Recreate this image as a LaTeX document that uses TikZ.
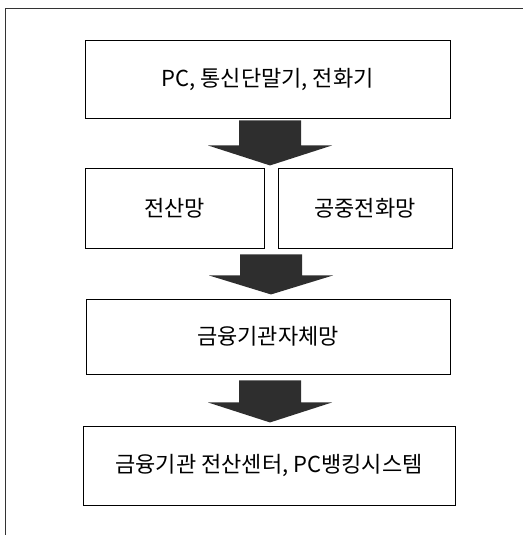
\documentclass[tikz,border=0pt]{standalone}
\usepackage{fontspec}
\newfontfamily\kr{Noto Sans CJK KR}
\usetikzlibrary{calc}
\definecolor{arrowgray}{HTML}{2E2E2E}
\tikzset{
  boxnode/.style={draw=black, line width=0.9pt, fill=white, inner sep=0pt,
    font=\kr\fontsize{22}{26}\selectfont},
  arrowfill/.style={fill=arrowgray},
}
% \flowarrow{top coordinate}{shaft length}{total length}
\newcommand\flowarrow[3]{%
  \fill[arrowfill] ($(#1)+(-31,0)$) -- ($(#1)+(31,0)$) -- ($(#1)+(31,#2)$) -- ($(#1)+(62,#2)$)
    -- ($(#1)+(0,#3)$) -- ($(#1)+(-62,#2)$) -- ($(#1)+(-31,#2)$) -- cycle;}
\begin{document}
\begin{tikzpicture}[x=1pt,y=-1pt]
\useasboundingbox (0,0) rectangle (523,535);
\draw[line width=0.8pt, black!80] (5,535) -- (5,8) -- (523,8);

\node[boxnode, minimum width=365pt, minimum height=78pt] (b1) at (267.5,79) {\raisebox{-7pt}{PC, 통신단말기, 전화기}};
\node[boxnode, minimum width=179pt, minimum height=80pt] (b2l) at (174.5,208) {전산망};
\node[boxnode, minimum width=174pt, minimum height=80pt] (b2r) at (365,208) {공중전화망};
\node[boxnode, minimum width=364pt, minimum height=75pt] (b3) at (268,336.5) {금융기관자체망};
\node[boxnode, minimum width=372pt, minimum height=79pt] (b4) at (269,465.5) {\raisebox{-9pt}{금융기관 전산센터, PC뱅킹시스템}};

\coordinate (a1) at ($(b1.south)+(2.5,2)$);
\coordinate (a2) at ($(b2l.south east)!0.5!(b2r.south west)+(0,6)$);
\coordinate (a3) at ($(b3.south)+(2,6)$);
\flowarrow{a1}{25}{45}
\flowarrow{a2}{21}{40}
\flowarrow{a3}{22}{42}
\end{tikzpicture}
\end{document}
